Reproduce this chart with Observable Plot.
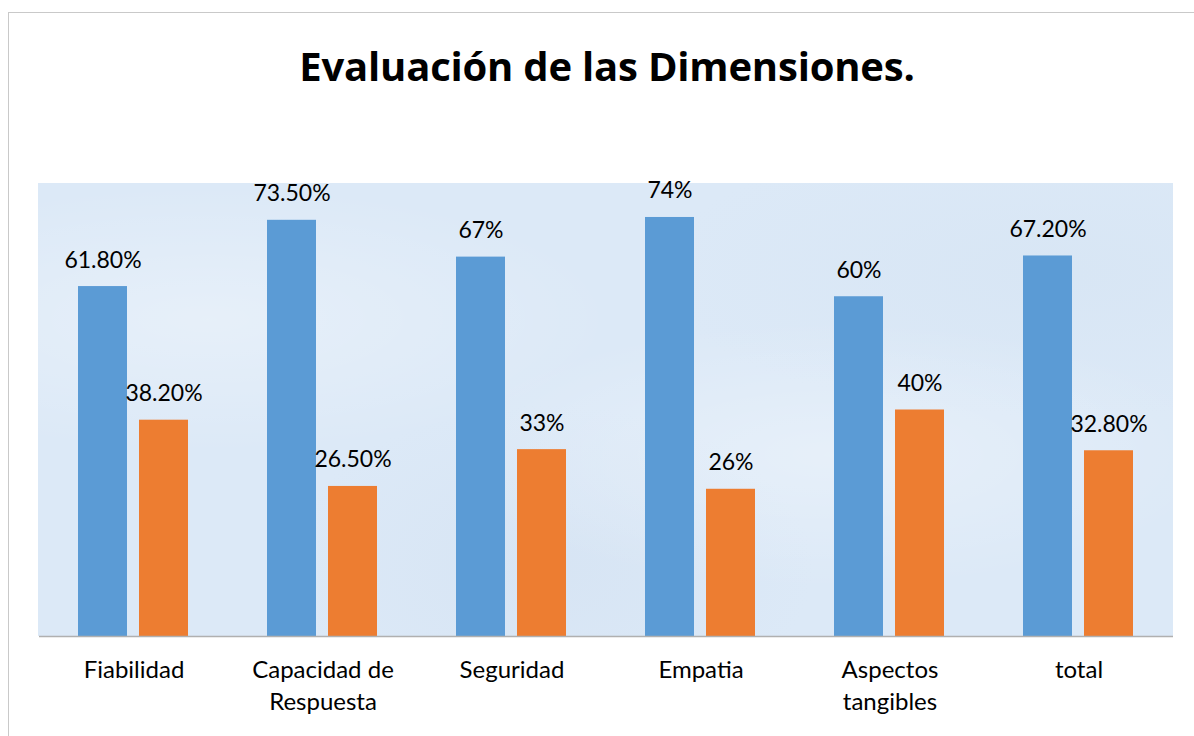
<!DOCTYPE html>
<html>
<head>
<meta charset="utf-8">
<script src="https://cdn.jsdelivr.net/npm/d3@7"></script>
<script src="https://cdn.jsdelivr.net/npm/@observablehq/plot@0.6"></script>
<style>
  html, body { margin: 0; padding: 0; background: #fff; }
  body { width: 1194px; height: 736px; position: relative; overflow: hidden; font-family: Lato, "Open Sans", sans-serif; }
  #border { position: absolute; left: 8px; top: 12px; width: 1200px; height: 800px; border-left: 1.5px solid #c9c9c9; border-top: 1.5px solid #c9c9c9; }
  #title { position: absolute; left: 0; top: 0; width: 1214px; height: 163px; text-align: center; font-weight: bold; font-size: 40px; line-height: 132px; color: #000; font-family: "Open Sans", sans-serif; letter-spacing: -0.2px;}
  #bg { position: absolute; left: 38px; top: 183px; width: 1135px; height: 453px;
        background-color: #dce9f7;
        background-image:
          radial-gradient(ellipse at 15% 30%, rgba(255,255,255,0.3), rgba(255,255,255,0) 30%),
          radial-gradient(ellipse at 70% 60%, rgba(255,255,255,0.3), rgba(255,255,255,0) 35%),
          radial-gradient(ellipse at 45% 85%, rgba(205,220,238,0.35), rgba(205,220,238,0) 30%),
          radial-gradient(ellipse at 90% 20%, rgba(208,224,240,0.35), rgba(208,224,240,0) 28%); }
  #chart { position: absolute; left: 0; top: 163px; }
</style>
</head>
<body>
<div id="border"></div>
<div id="bg"></div>
<div id="title">Evaluación de las Dimensiones.</div>
<div id="chart"></div>
<script>
const categories = ["Fiabilidad", "Capacidad de\nRespuesta", "Seguridad", "Empatia", "Aspectos\ntangibles", "total"];
const seriesNames = ["Serie 1", "Serie 2"];
const serie1 = [61.8, 73.5, 67, 74, 60, 67.2];
const serie2 = [38.2, 26.5, 33, 26, 40, 32.8];
const labels1 = ["61.80%", "73.50%", "67%", "74%", "60%", "67.20%"];
const labels2 = ["38.20%", "26.50%", "33%", "26%", "40%", "32.80%"];
const colors = ["#5b9bd5", "#ed7d31"];

const data = [];
categories.forEach((c, i) => {
  data.push({cat: c, serie: seriesNames[0], value: serie1[i], label: labels1[i]});
  data.push({cat: c, serie: seriesNames[1], value: serie2[i], label: labels2[i]});
});

const chart = Plot.plot({
  width: 1194,
  height: 573,
  marginTop: 20,
  marginBottom: 100,
  marginLeft: 38,
  marginRight: 21,
  style: {fontFamily: "Lato, 'Open Sans', sans-serif", background: "transparent", overflow: "visible"},
  fx: {domain: categories, padding: 0, label: null},
  x: {domain: seriesNames, paddingInner: 0.19, paddingOuter: 0.62, axis: null},
  y: {domain: [0, 80], axis: null},
  color: {domain: seriesNames, range: colors},
  marks: [
    Plot.barY(data, {fx: "cat", x: "serie", y: "value", fill: "serie"}),
    Plot.text(data, {fx: "cat", x: "serie", y: "value", text: "label", dy: -19, fontSize: 23, fill: "#000", lineAnchor: "bottom"}),
    Plot.axisFx({anchor: "bottom", tickSize: 0, tickPadding: 19, fontSize: 24, label: null, fill: "#000", lineHeight: 1.33}),
    Plot.ruleY([0], {stroke: "#b0b0b0", strokeWidth: 1.5})
  ]
});
document.getElementById("chart").appendChild(chart);
</script>
</body>
</html>
